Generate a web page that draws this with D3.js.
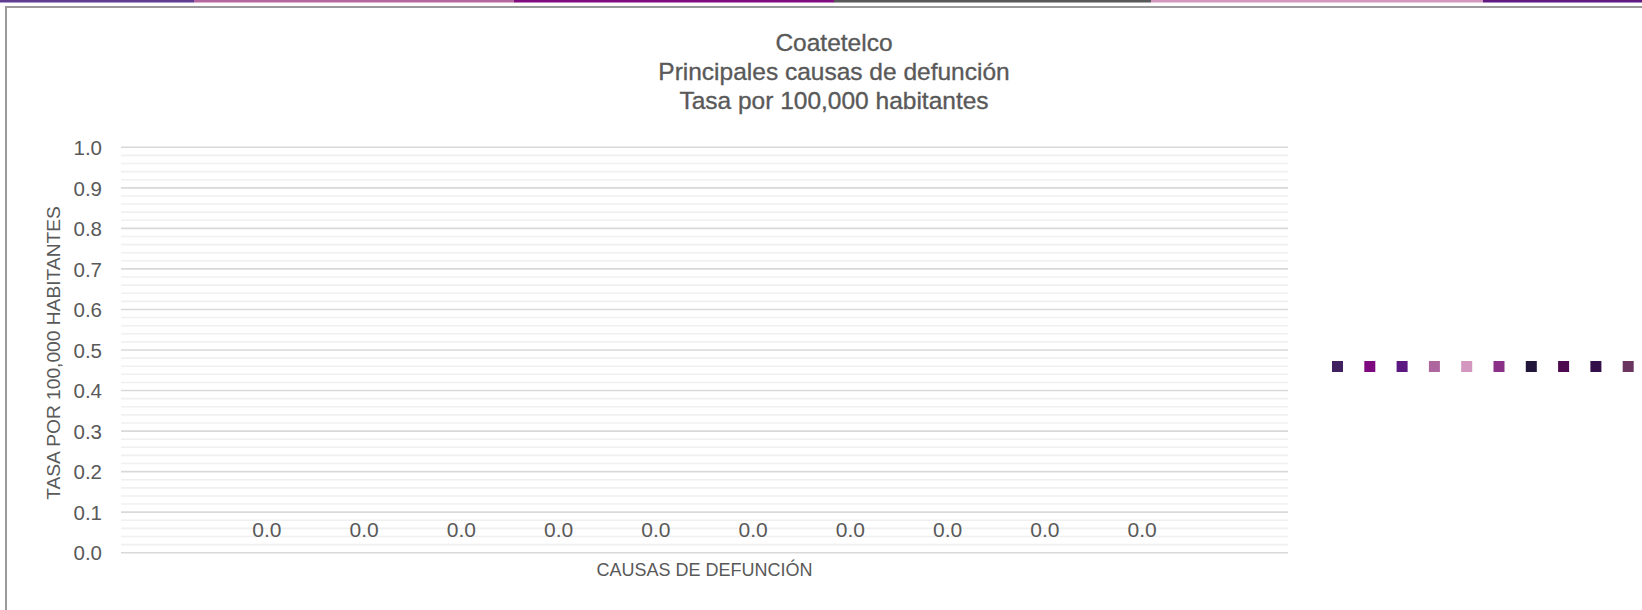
<!DOCTYPE html>
<html>
<head>
<meta charset="utf-8">
<script src="https://cdn.jsdelivr.net/npm/d3@7"></script>
<style>
  html, body { margin: 0; padding: 0; background: #ffffff; }
  svg { display: block; }
  text { font-family: "Liberation Sans", Arial, sans-serif; fill: #595959; }
</style>
</head>
<body>
<svg id="chart" width="1642" height="610"></svg>
<script>
// ---- data ----
const titleLines = ["Coatetelco", "Principales causas de defunción", "Tasa por 100,000 habitantes"];
const categories = [""];
const seriesLabels = ["", "", "", "", "", "", "", "", "", ""];
const seriesValues = [0, 0, 0, 0, 0, 0, 0, 0, 0, 0];
const seriesColors = ["#41205F", "#7F0A7F", "#5B1880", "#AE679E", "#D396BE",
                      "#8A3086", "#22163A", "#4E0A4E", "#33104A", "#6A3660"];
const yTickValues = [0, 0.1, 0.2, 0.3, 0.4, 0.5, 0.6, 0.7, 0.8, 0.9, 1.0];
const yAxisTitle = "TASA POR 100,000 HABITANTES";
const xAxisTitle = "CAUSAS DE DEFUNCIÓN";
const stripColors = ["#5F3C91", "#B5679F", "#7E0C7E", "#58595B", "#D497BD", "#5E1A80"];

// ---- layout ----
const svg = d3.select("#chart");
const plot = { left: 121, right: 1288, top: 147.3, bottom: 552.7 };

// decorative top strip
const stripEdges = [0, 194, 514, 834, 1151, 1483, 1642];
svg.selectAll("rect.strip").data(stripColors).join("rect")
  .attr("class", "strip")
  .attr("x", (d, i) => stripEdges[i])
  .attr("y", 0)
  .attr("width", (d, i) => stripEdges[i + 1] - stripEdges[i])
  .attr("height", 2.5)
  .attr("fill", d => d);

// chart frame
svg.append("rect")
  .attr("x", 6).attr("y", 7)
  .attr("width", 1700).attr("height", 700)
  .attr("fill", "none")
  .attr("stroke", "#9a9a9a")
  .attr("stroke-width", 2);

// scales
const y = d3.scaleLinear().domain([0, 1]).range([plot.bottom, plot.top]);
const x0 = d3.scaleBand().domain(categories).range([plot.left, plot.right]).padding(0);
const seriesIdx = d3.range(seriesValues.length);
const bw = x0.bandwidth();
const x1 = d3.scaleBand().domain(seriesIdx).range([bw / 12, bw * 11 / 12]).padding(0);

// minor gridlines
const minorTicks = d3.range(0, 50).map(i => i * 0.02).filter((v, i) => i % 5 !== 0);
svg.append("g").selectAll("line").data(minorTicks).join("line")
  .attr("x1", plot.left).attr("x2", plot.right)
  .attr("y1", d => y(d)).attr("y2", d => y(d))
  .attr("stroke", "#f0f0f0").attr("stroke-width", 1.6);

// major gridlines
svg.append("g").selectAll("line").data(yTickValues).join("line")
  .attr("x1", plot.left).attr("x2", plot.right)
  .attr("y1", d => y(d)).attr("y2", d => y(d))
  .attr("stroke", "#d9d9d9").attr("stroke-width", 1.6);

// y axis tick labels
const yAxis = d3.axisLeft(y).tickValues(yTickValues).tickFormat(d3.format(".1f")).tickSize(0).tickPadding(0);
const yg = svg.append("g").attr("transform", `translate(102,0)`).call(yAxis);
yg.select(".domain").remove();
yg.selectAll("text")
  .attr("font-size", 20.5)
  .attr("font-family", "Liberation Sans, Arial, sans-serif")
  .attr("fill", "#595959")
  .attr("dy", "0.35em");

// bars
const catG = svg.append("g").selectAll("g").data(categories).join("g")
  .attr("transform", d => `translate(${x0(d)},0)`);
catG.selectAll("rect").data(seriesValues.map((v, i) => ({ v, i }))).join("rect")
  .attr("x", d => x1(d.i))
  .attr("width", x1.bandwidth())
  .attr("y", d => y(d.v))
  .attr("height", d => y(0) - y(d.v))
  .attr("fill", d => seriesColors[d.i]);

// data labels
catG.selectAll("text").data(seriesValues.map((v, i) => ({ v, i }))).join("text")
  .attr("x", d => x1(d.i) + x1.bandwidth() / 2)
  .attr("y", d => y(d.v) - 16)
  .attr("text-anchor", "middle")
  .attr("font-size", 21)
  .text(d => d3.format(".1f")(d.v));

// title
svg.append("g").selectAll("text").data(titleLines).join("text")
  .attr("x", 834)
  .attr("y", (d, i) => 51 + i * 29)
  .attr("text-anchor", "middle")
  .attr("font-size", 24.5)
  .attr("stroke", "#595959")
  .attr("stroke-width", 0.35)
  .text(d => d);

// axis titles
svg.append("text")
  .attr("transform", `translate(60,353) rotate(-90)`)
  .attr("text-anchor", "middle")
  .attr("font-size", 19.2)
  .text(yAxisTitle);

svg.append("text")
  .attr("x", (plot.left + plot.right) / 2)
  .attr("y", 576)
  .attr("text-anchor", "middle")
  .attr("font-size", 18)
  .text(xAxisTitle);

// legend (markers only, labels empty)
const legend = svg.append("g").selectAll("g").data(seriesIdx).join("g")
  .attr("transform", i => `translate(${1332 + i * 32.3},361)`);
legend.append("rect")
  .attr("width", 11).attr("height", 11)
  .attr("fill", i => seriesColors[i]);
legend.append("text")
  .attr("x", 14).attr("y", 10)
  .attr("font-size", 16)
  .text(i => seriesLabels[i]);
</script>
</body>
</html>
